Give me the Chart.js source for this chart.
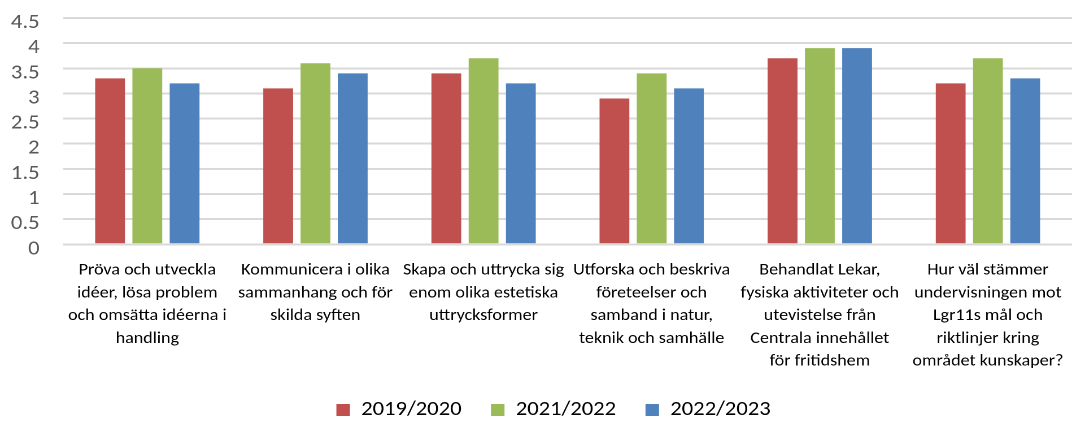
<!DOCTYPE html>
<html>
<head>
<meta charset="utf-8">
<script src="https://cdn.jsdelivr.net/npm/chart.js@4"></script>
<style>
html, body { margin: 0; padding: 0; width: 1072px; height: 421px; overflow: hidden; background: #ffffff; }
#wrap { position: absolute; left: 0; top: 0; width: 980px; height: 430px; transform: scaleX(1.12961); transform-origin: 0 0; }
canvas { display: block; }
</style>
</head>
<body>
<div id="wrap"><canvas id="chart" width="980" height="430" style="width:980px;height:430px"></canvas></div>
<script>
const categories = [
  ["Pröva och utveckla", "idéer, lösa problem", "och omsätta idéerna i", "handling"],
  ["Kommunicera i olika", "sammanhang och för", "skilda syften"],
  ["Skapa och uttrycka sig", "enom olika estetiska", "uttrycksformer"],
  ["Utforska och beskriva", "företeelser och", "samband i natur,", "teknik och samhälle"],
  ["Behandlat Lekar,", "fysiska aktiviteter och", "utevistelse från", "Centrala innehållet", "för fritidshem"],
  ["Hur väl stämmer", "undervisningen mot", "Lgr11s mål och", "riktlinjer kring", "området kunskaper?"]
];
const seriesNames = ["2019/2020", "2021/2022", "2022/2023"];
const values2019 = [3.3, 3.1, 3.4, 2.9, 3.7, 3.2];
const values2021 = [3.5, 3.6, 3.7, 3.4, 3.9, 3.7];
const values2022 = [3.2, 3.4, 3.2, 3.1, 3.9, 3.3];
const seriesColors = ["#C0504D", "#9BBB59", "#4F81BD"];
const yMin = 0, yMax = 4.5, yStep = 0.5;

const FONT = "Carlito, Lato, 'Liberation Sans', sans-serif";

new Chart(document.getElementById('chart'), {
  type: 'bar',
  data: {
    labels: categories,
    datasets: [
      { label: seriesNames[0], data: values2019, backgroundColor: seriesColors[0] },
      { label: seriesNames[1], data: values2021, backgroundColor: seriesColors[1] },
      { label: seriesNames[2], data: values2022, backgroundColor: seriesColors[2] }
    ]
  },
  options: {
    responsive: false,
    maintainAspectRatio: false,
    animation: false,
    devicePixelRatio: 2,
    events: [],
    datasets: { bar: { categoryPercentage: 0.665, barPercentage: 0.8, borderWidth: 0 } },
    layout: { padding: { left: 0, right: 0, top: 18, bottom: 0 } },
    plugins: {
      tooltip: { enabled: false },
      legend: {
        position: 'bottom',
        align: 'center',
        labels: {
          boxWidth: 12, boxHeight: 12, padding: 26,
          color: '#000000',
          font: { family: FONT, size: 20 }
        }
      }
    },
    scales: {
      x: {
        grid: { display: false, drawTicks: false },
        border: { display: false },
        ticks: {
          autoSkip: false, maxRotation: 0, minRotation: 0,
          padding: 15,
          color: '#000000',
          font: { family: FONT, size: 16, lineHeight: 1.419 }
        },
        afterFit: (s) => { s.height = 129.7; }
      },
      y: {
        min: yMin, max: yMax,
        grid: { color: '#d9d9d9', lineWidth: 2, drawTicks: true, tickLength: 21, tickColor: 'rgba(0,0,0,0)' },
        border: { display: false },
        afterBuildTicks: (s) => {
          const t = [];
          for (let v = yMin; v <= yMax + 1e-9; v += yStep) t.push({ value: Math.round(v * 10) / 10 });
          s.ticks = t;
        },
        ticks: {
          autoSkip: false,
          padding: 0,
          labelOffset: 5,
          color: '#595959',
          font: { family: FONT, size: 20, lineHeight: 1 },
          callback: (v) => String(v)
        },
        afterFit: (s) => { s.width = 56; }
      },
      yPad: {
        position: 'right',
        display: true,
        grid: { display: false, drawTicks: false },
        border: { display: false },
        ticks: { display: false },
        afterFit: (s) => { s.width = 31; }
      }
    }
  }
});
</script>
</body>
</html>
